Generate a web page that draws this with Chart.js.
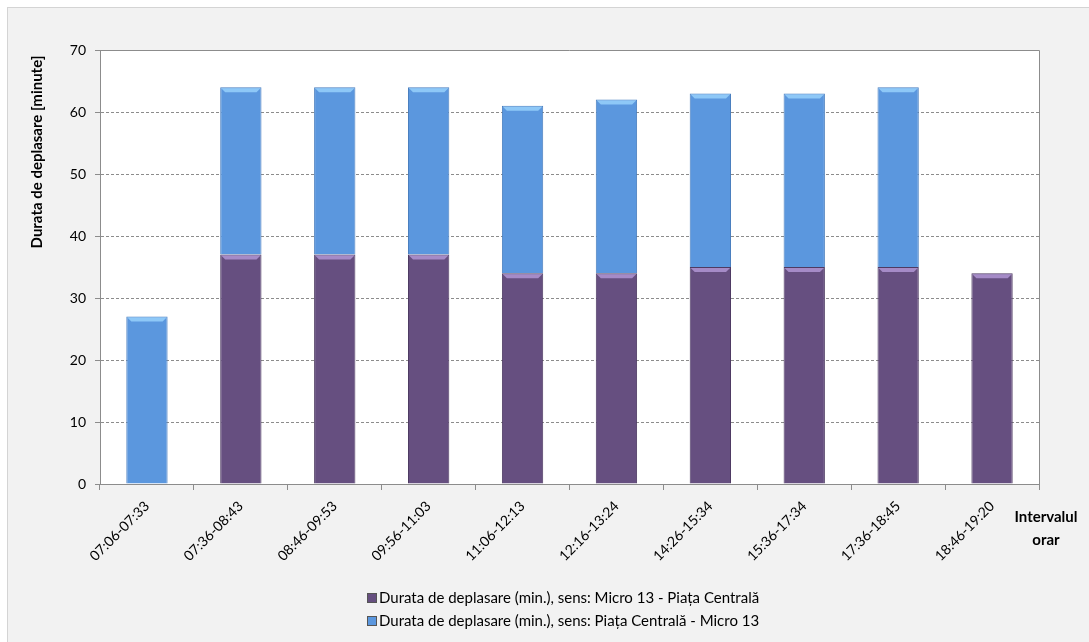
<!DOCTYPE html>
<html>
<head>
<meta charset="utf-8">
<script src="https://cdn.jsdelivr.net/npm/chart.js@4.4.1/dist/chart.umd.min.js"></script>
<style>
    body { margin: 0; background: #fff; }
    #frame { position: absolute; left: 7px; top: 7px; width: 1100px; height: 660px; background: #f2f2f2; border: 1px solid #d4d4d4; }
    #wrap { position: absolute; left: 0; top: 0; width: 1089px; height: 642px; }
    #legend { position: absolute; left: 367px; top: 587px; font-family: Lato, sans-serif; font-size: 15px; color: #000; }
    .leg-row { height: 23px; line-height: 20px; white-space: nowrap; }
    .leg-box { display: inline-block; width: 8px; height: 8px; margin-right: 2px; border: 1px solid #555; vertical-align: 0px; }
</style>
</head>
<body>
<div id="frame"></div>
<div id="wrap"><canvas id="chart" width="1089" height="642"></canvas></div>
<div id="legend"></div>
<script>
const labels = ['07:06-07:33', '07:36-08:43', '08:46-09:53', '09:56-11:03', '11:06-12:13',
    '12:16-13:24', '14:26-15:34', '15:36-17:34', '17:36-18:45', '18:46-19:20']
const microToCentru = [null, 37, 37, 37, 34, 34, 35, 35, 35, 34]
const centruToMicro = [27, 27, 27, 27, 27, 28, 28, 28, 29, null]
const seriesNames = ['Durata de deplasare (min.), sens: Micro 13 - Piața Centrală',
    'Durata de deplasare (min.), sens: Piața Centrală - Micro 13']
const yTicks = [0, 10, 20, 30, 40, 50, 60, 70]
const yTitle = 'Durata de deplasare [minute]'
const xTitle = ['Intervalul', 'orar']

const purple = '#664f80'
const blue = '#5b97de'
const FONT = 'Lato'

// legend as html, two rows like in the original
let legend = document.getElementById('legend')
const legColors = [purple, blue]
seriesNames.forEach((name, i) => {
    let row = document.createElement('div')
    row.classList.add('leg-row')
    let box = document.createElement('span')
    box.classList.add('leg-box')
    box.style.background = legColors[i]
    row.appendChild(box)
    row.appendChild(document.createTextNode(name))
    legend.appendChild(row)
})

const plotBg = {
    id: 'plotBg',
    beforeDraw(chart) {
        const {ctx, chartArea: a} = chart
        ctx.save()
        ctx.fillStyle = '#fff'
        ctx.fillRect(a.left, a.top, a.right - a.left, a.bottom - a.top)
        ctx.restore()
    },
    afterDatasetsDraw(chart) {
        const ctx = chart.ctx
        const tops = ['#a58bc7', '#8ec8f7']
        chart.data.datasets.forEach((ds, di) => {
            chart.getDatasetMeta(di).data.forEach((bar, i) => {
                if (ds.data[i] == null) return
                const w = bar.width
                const l = bar.x - w / 2
                ctx.save()
                ctx.fillStyle = tops[di]
                ctx.beginPath()
                ctx.moveTo(l + 1, bar.y + 1)
                ctx.lineTo(l + w - 1, bar.y + 1)
                ctx.lineTo(l + w - 5, bar.y + 5)
                ctx.lineTo(l + 5, bar.y + 5)
                ctx.closePath()
                ctx.fill()
                ctx.restore()
            })
        })
    },
    afterDraw(chart) {
        const {ctx, chartArea: a} = chart
        ctx.save()
        ctx.strokeStyle = '#8c8c8c'
        ctx.lineWidth = 1
        ctx.beginPath()
        ctx.moveTo(a.left, Math.round(a.top) + 0.5)
        ctx.lineTo(Math.round(a.right) + 0.5, Math.round(a.top) + 0.5)
        ctx.lineTo(Math.round(a.right) + 0.5, a.bottom)
        ctx.stroke()
        ctx.fillStyle = '#000'
        ctx.font = 'bold 15px ' + FONT
        ctx.textAlign = 'center'
        ctx.textBaseline = 'middle'
        ctx.fillText(xTitle[0], 1046, 517)
        ctx.fillText(xTitle[1], 1046, 540)
        // y title sits near the top, not centred on the axis
        ctx.translate(37, 152)
        ctx.rotate(-Math.PI / 2)
        ctx.fillText(yTitle, 0, 0)
        ctx.restore()
    }
}

let ctx = document.getElementById('chart').getContext('2d')
let chart = new Chart(ctx, {
    type: 'bar',
    data: {
        labels: labels,
        datasets: [{
            label: seriesNames[0],
            data: microToCentru,
            backgroundColor: purple,
            borderColor: '#4e3b63',
            borderWidth: 1,
            barPercentage: 0.44,
            categoryPercentage: 1
        }, {
            label: seriesNames[1],
            data: centruToMicro,
            backgroundColor: blue,
            borderColor: '#4a7fbf',
            borderWidth: 1,
            barPercentage: 0.44,
            categoryPercentage: 1
        }]
    },
    plugins: [plotBg],
    options: {
        responsive: false,
        animation: false,
        layout: { padding: { left: 25, top: 50, right: 50, bottom: 0 } },
        plugins: {
            legend: { display: false },
            tooltip: { enabled: false }
        },
        scales: {
            x: {
                stacked: true,
                afterFit: s => { s.height = 158 },
                grid: { offset: true, drawOnChartArea: false, color: '#8c8c8c', tickLength: 6 },
                border: { color: '#8c8c8c' },
                ticks: {
                    color: '#000', padding: 8, minRotation: 45, maxRotation: 45,
                    font: { family: FONT, size: 14 }
                }
            },
            y: {
                stacked: true,
                min: 0,
                max: 70,
                afterFit: s => { s.width = 75 },
                afterBuildTicks: s => { s.ticks = yTicks.map(v => ({value: v})) },
                grid: { color: '#8c8c8c', tickLength: 5, tickBorderDash: [] },
                border: { color: '#8c8c8c', dash: [3, 2] },
                ticks: { color: '#000', padding: 9, font: { family: FONT, size: 14 } }
            }
        }
    }
})
</script>
</body>
</html>
